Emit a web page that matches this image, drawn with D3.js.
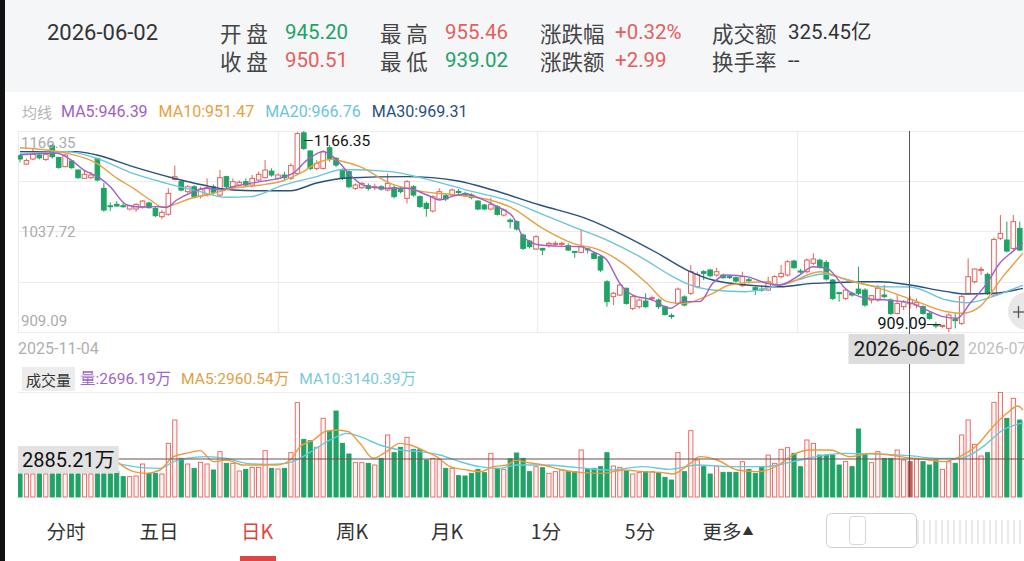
<!DOCTYPE html>
<html>
<head>
<meta charset="utf-8">
<script src="https://cdn.jsdelivr.net/npm/d3@7"></script>
<style>
  body { margin: 0; background: #fff; }
  svg { display: block; font-family: Roboto, "Noto Sans CJK SC", sans-serif; }
</style>
</head>
<body>
<svg id="chart" width="1024" height="561"></svg>
<script>
// ---- data ----
const quoteDate = "2026-06-02";
const quoteLabels = ["开 盘", "最 高", "涨跌幅", "成交额", "收 盘", "最 低", "涨跌额", "换手率"];
const quoteValues = ["945.20", "955.46", "+0.32%", "325.45亿", "950.51", "939.02", "+2.99", "--"];

const maNames = ["MA5", "MA10", "MA20", "MA30"];
const maNow = [946.39, 951.47, 966.76, 969.31];
const volNow = 2696.19;
const volMaNow = [2960.54, 3140.39];
const priceTicks = [1166.35, 1037.72, 909.09];
const crossVolume = 2885.21;
const firstDate = "2025-11-04";
const nextDate = "2026-07";
const tabs = ["分时", "五日", "日K", "周K", "月K", "1分", "5分", "更多"];

const opens = [1134.7, 1124, 1130.5, 1135.6, 1130, 1147.5, 1132.6, 1120.7, 1128, 1116.4,
  1105.7, 1106.6, 1131.3, 1092.9, 1070.7, 1072.5, 1070.7, 1066.5, 1066.5, 1069,
  1074.2, 1067.3, 1056.7, 1059.7, 1104.5, 1101.5, 1088.7, 1095, 1083, 1084.4,
  1095, 1084.4, 1107.9, 1095, 1097.2, 1101.5, 1097.2, 1103.6, 1106.6, 1115,
  1105.7, 1110, 1105.7, 1112, 1164, 1140.7, 1118.5, 1118.5, 1145, 1131.3,
  1116.4, 1114.3, 1092.9, 1093.8, 1096.3, 1094.6, 1095, 1090.8, 1093.8, 1092.9,
  1080.1, 1095, 1082.3, 1073.7, 1064, 1079.3, 1083.5, 1084.4, 1089, 1086.5,
  1084.4, 1076.7, 1071.6, 1066.5, 1069.5, 1058.8, 1052.4, 1050.3, 1033.2, 1025.5,
  1015.3, 1016.1, 1020.4, 1022.1, 1022, 1019.5, 1012.2, 1011, 1015.5, 1009.7,
  1005.5, 973.4, 954.3, 956.4, 965, 939.3, 941.5, 948.7, 952, 950,
  941.5, 930.2, 945.7, 954, 958.6, 967, 986.3, 988.4, 982, 982,
  980, 978.6, 968.4, 976, 965.8, 964, 962.8, 969.2, 979.9, 982,
  999.9, 987.1, 986.3, 997, 1001, 998.2, 975.6, 959.4, 952.1, 958.6,
  964, 962.8, 950, 950, 956.4, 950, 932.9, 941.5, 945.2, 943.6,
  941.5, 932.9, 918, 916.6, 913.7, 925, 920.1, 958.6, 973.5, 988,
  982.8, 956.4, 1029, 1026.8, 1016.1, 1041.7];
const closes = [1130.5, 1128.5, 1136.5, 1132, 1136.5, 1133.5, 1119.8, 1135.6, 1119.4, 1106.6,
  1110.9, 1110, 1103.6, 1065.2, 1070.1, 1070.3, 1070.3, 1070.7, 1072.4, 1076.7,
  1068.2, 1058, 1062.2, 1086.5, 1107.8, 1090.8, 1095, 1082.3, 1092, 1093.8,
  1088, 1106.6, 1095, 1101.5, 1100.6, 1097.2, 1105.7, 1110.9, 1116.4, 1110,
  1110, 1106.6, 1122, 1163, 1144, 1118.5, 1125, 1139.9, 1131.3, 1122.8,
  1105.7, 1095, 1097.2, 1099.3, 1092.9, 1095.2, 1092, 1099.3, 1082.3, 1088.7,
  1101.5, 1084.4, 1069.5, 1067.3, 1082.3, 1088.7, 1079.3, 1090.8, 1088.7, 1083.5,
  1081, 1066.5, 1066.5, 1072.4, 1059.7, 1065.2, 1050.3, 1040.9, 1016.1, 1018.3,
  1031.1, 1014, 1022.5, 1022.5, 1022.5, 1014, 1011, 1018.3, 1014.3, 1003.3,
  988.4, 947.9, 958.6, 969.2, 945.7, 954.3, 950, 941.5, 953, 941.5,
  931.6, 929.8, 964, 943.6, 986.3, 982.8, 984.1, 981.1, 986.3, 978.6,
  979.8, 974.3, 979.9, 975.6, 962.8, 963.5, 973.4, 979.9, 984.1, 999,
  991.4, 987, 1001.2, 1002.5, 992.6, 976.9, 952.1, 958.5, 962.8, 956.4,
  958.6, 943.6, 955.6, 964.9, 954.3, 932.9, 945.7, 947.52, 950.51, 947,
  932.9, 926.5, 917.6, 917.5, 930.8, 924.4, 954.3, 979.9, 989.7, 989.3,
  958.6, 1027.6, 1035.3, 1012.7, 1050.3, 1014];
const highs = [1136.5, 1131, 1144, 1138, 1140, 1150, 1133, 1137, 1129, 1117,
  1116, 1114, 1132, 1100, 1075, 1076.7, 1074.6, 1071.6, 1074, 1078,
  1076, 1069, 1065, 1093, 1122, 1103, 1097, 1097, 1095, 1105.7,
  1098, 1116.4, 1109, 1105.7, 1103, 1105.7, 1110, 1114.3, 1129.2, 1118.5,
  1112, 1114.3, 1125, 1165, 1166.35, 1142, 1129, 1142, 1148.4, 1133,
  1118.5, 1116, 1099.3, 1101, 1099.3, 1099, 1097, 1112, 1097, 1095,
  1103.6, 1097, 1084, 1075.9, 1084, 1092.9, 1086.5, 1093, 1092, 1088.7,
  1086.5, 1078, 1073, 1081, 1071.6, 1067, 1054.5, 1052, 1035, 1027,
  1033, 1016.9, 1024.6, 1025.5, 1025, 1022.5, 1012.5, 1039.6, 1017, 1011.9,
  1007, 975.6, 960.7, 972, 966, 956, 952, 958.6, 955.5, 952,
  943, 933, 966, 956, 994.8, 986.3, 988.4, 990, 991.4, 984,
  982, 980, 986.3, 978.6, 967, 969, 979.9, 982, 994.8, 1001,
  1001.6, 990, 1003.3, 1009.7, 1003, 1001, 977, 960.7, 965, 960.7,
  992.6, 965, 956.4, 969.2, 969.2, 952.1, 956.4, 950, 955.46, 952.1,
  943, 935, 922.2, 918, 933, 932.9, 956.4, 1003.3, 990.5, 992.6,
  985, 1030, 1058.8, 1050.3, 1058.8, 1050.3];
const lows = [1126.2, 1123, 1129, 1130, 1128, 1131, 1118, 1120, 1118, 1105,
  1105, 1105, 1102, 1063, 1064, 1069.6, 1068.2, 1064.8, 1063, 1067,
  1067, 1056, 1053.7, 1058, 1103, 1089, 1087, 1080, 1080, 1082.3,
  1085, 1082.3, 1093, 1093, 1096, 1095, 1095, 1101.5, 1105.7, 1107.9,
  1104, 1103.6, 1103.6, 1110, 1142, 1116, 1116.4, 1117, 1127, 1120,
  1103.6, 1093, 1090.8, 1092, 1090, 1090.8, 1090, 1089, 1080, 1086.5,
  1073.7, 1082, 1068, 1056.7, 1062, 1078, 1076.7, 1083, 1084.4, 1082,
  1079, 1065, 1065, 1065, 1058, 1057, 1041.7, 1039, 1014, 1016,
  1014, 1007.6, 1017, 1018.3, 1019, 1012.7, 1004, 1009.7, 1009.7, 1002,
  986, 941.4, 943.6, 955, 944, 937, 939, 940, 949, 938.5,
  930, 925.7, 944, 942, 956.4, 965, 975.6, 979, 979.9, 977,
  977, 972, 967, 971.3, 956.4, 960.7, 961.5, 967, 977.7, 980,
  990, 984, 984, 994.8, 990, 975, 950, 947.9, 950, 954.3,
  956.4, 941.5, 945.7, 947.9, 952.1, 930.8, 931.6, 937.2, 939.02, 939.3,
  931, 925, 913.7, 913.7, 909.09, 913.7, 918, 957.3, 971.3, 982,
  956.4, 954, 1026.8, 1011, 1014, 1013];
// volume, 万
const volumes = [1750, 1750, 1750, 1750, 1750, 1750, 1750, 1750, 1750, 1750,
  1750, 1750, 1750, 1750, 1750, 1924, 1544, 1544, 1595, 2506,
  1797, 1797, 1746, 4075, 5847, 2936, 2506, 2177, 2632, 2506,
  2050, 3442, 2556, 2556, 1974, 2101, 2253, 2253, 3518, 2177,
  2126, 2177, 3366, 7163, 4379, 4277, 3771, 5973, 5037, 6530,
  4075, 3265, 2607, 2607, 2556, 2430, 2936, 4708, 3366, 3771,
  4530, 3619, 3619, 2809, 2936, 2860, 2177, 2177, 1620, 1595,
  1797, 2101, 1848, 3316, 2177, 2101, 2900, 3340, 2936, 1924,
  2303, 2227, 1797, 1924, 2050, 1924, 1924, 3569, 2101, 2177,
  2303, 3366, 2354, 2253, 2000, 1746, 1848, 1924, 1924, 1848,
  1493, 1291, 3366, 1924, 5037, 2809, 2303, 1746, 2354, 1873,
  1873, 1873, 2683, 2101, 1797, 2253, 3189, 2556, 3619, 3746,
  3316, 2303, 4328, 4075, 3189, 3189, 3189, 2430, 2683, 2303,
  5163, 3265, 2607, 3442, 2936, 2936, 3569, 2809, 2696.19, 2936,
  2683, 2430, 2809, 2101, 2683, 2556, 4708, 5847, 3999, 3113,
  3366, 7188, 7947, 5973, 7492, 5847];

// moving averages read as [candle index, value]
const ma5 = [[0, 1136], [5.7, 1137.8], [7.8, 1130], [9.8, 1117], [12.4, 1106], [14, 1095], [16.5, 1072],
  [18.6, 1069], [21.2, 1069.5], [22.7, 1068.7], [24.3, 1078], [26.4, 1087], [28.9, 1093], [31, 1091],
  [33, 1095], [37.2, 1101.5], [40.3, 1106], [42.3, 1112], [44.5, 1129], [47, 1140], [48.5, 1133.5],
  [49.6, 1125], [51.2, 1110], [53.2, 1097], [56.3, 1093], [60, 1093], [63.1, 1084.4], [65.1, 1078],
  [67.1, 1083], [69.3, 1085.7], [71.3, 1080], [74, 1069.5], [76.4, 1056.7], [78, 1031], [80.6, 1020.4],
  [83.3, 1019], [86.8, 1018.3], [88.8, 1012], [91, 1001], [93, 971.4], [95, 956.4], [98.1, 950],
  [100.8, 939.4], [102.8, 948], [105.4, 948], [107.4, 971.4], [109.6, 982], [112.7, 980], [115.8, 971.4],
  [117.8, 969.2], [120.5, 980], [123, 992.6], [125.1, 990.5], [128.2, 962.8], [131.3, 952.2], [134.4, 950],
  [138, 946.39], [140.6, 937.2], [143.1, 928.7], [145.3, 926.6], [147.3, 945.8], [149.9, 971.4],
  [151.9, 997], [153.9, 1012], [155.5, 1022.6]];
const ma10 = [[0, 1145], [7.2, 1138], [11.9, 1125], [15, 1106], [17.6, 1093], [20.2, 1078], [22.2, 1068.7],
  [23.7, 1071.6], [26.4, 1080], [28.9, 1084.4], [33, 1093], [37.2, 1097], [40.8, 1102.7], [43.4, 1112],
  [46.5, 1127], [48.5, 1130], [49.6, 1128.3], [52.7, 1120.7], [57.4, 1099.4], [62.5, 1088.7], [67.8, 1084.4],
  [72.9, 1078], [76.4, 1067.4], [80.6, 1044], [85.7, 1022.6], [89.9, 1014], [93.5, 997], [97.2, 971.4],
  [100.3, 948], [102.8, 945.5], [107.4, 958.6], [110, 969.2], [115.2, 973.4], [117.8, 969.2], [124, 986.3],
  [128.2, 975.6], [133.3, 965], [138, 951.47], [143.7, 935], [146.2, 933], [148.8, 941.5], [152.4, 980],
  [155.5, 1010]];
const ma20 = [[0, 1138], [7.2, 1140], [11.9, 1131.4], [17.5, 1112], [22.7, 1099.4], [27.9, 1088.7], [32, 1081.5],
  [35.7, 1082.3], [40.8, 1097], [46, 1108], [50.1, 1117], [57.4, 1114.3], [62.5, 1105.8], [70.2, 1088.7],
  [75.5, 1078], [80.6, 1061], [85.7, 1044], [91, 1026.8], [96.1, 1005.5], [101.2, 980], [103.4, 971],
  [107.4, 962.8], [112.6, 960.7], [116.7, 967], [120.5, 975.6], [124.5, 983.3], [128.2, 976.5], [133.3, 967],
  [138, 966.76], [143.7, 950], [146.8, 946.6], [151.5, 956.4], [155.5, 969.2]];
const ma30 = [[0, 1140], [8.8, 1140], [11.9, 1135.6], [17.5, 1120.7], [23.7, 1106.2], [28.4, 1097.2], [33, 1090.8],
  [37.2, 1089.9], [41.9, 1089.9], [46, 1099.8], [50.7, 1106.2], [60, 1108], [67.7, 1102.7], [73.3, 1090.8],
  [80.6, 1071.6], [88.4, 1052.4], [93.5, 1033.2], [98.8, 1010.2], [103.4, 988.4], [107.4, 975.6], [112.7, 969.2],
  [117.8, 967], [122.9, 971.3], [125.6, 972.2], [130.7, 973.4], [133.3, 973.4], [138, 969.31], [143.7, 960.7],
  [146.8, 957.7], [150.9, 958.6], [155.5, 965]];
const volMa5 = [[15, 2683], [17.6, 1924], [19.6, 1797], [21.7, 2050], [23.8, 3063], [25.8, 3316], [27.9, 3518],
  [30, 2683], [32, 2809], [34.6, 2430], [37.2, 2430], [39.8, 2430], [41.9, 2809], [43.4, 3822], [45.5, 4328],
  [47.3, 4961], [49.1, 5087], [50.9, 4961], [52.7, 4075], [54.8, 2936], [56.8, 3442], [58.9, 4075], [60.5, 3948],
  [62.6, 3518], [64.6, 3063], [66.7, 2303], [69.3, 2050], [71.3, 1924], [73.4, 2303], [75.5, 2430], [77, 2809],
  [78, 2683], [81.1, 2430], [84.2, 2050], [87.3, 1848], [90.4, 1797], [93.5, 2050], [96.6, 1924], [99.7, 1848],
  [101.2, 1746], [103.9, 2556], [105.4, 3063], [108.1, 2809], [111.2, 2050], [114.3, 1924], [117.4, 2354],
  [119.8, 3189], [122.5, 3569], [125.6, 3569], [128.7, 3063], [131.8, 3316], [134.9, 3189], [138, 2960.54],
  [141, 2809], [143.1, 2683], [145.7, 3063], [148.4, 3948], [150.4, 5087], [153, 6353], [154.7, 6910], [155.5, 6606]];
const volMa10 = [[15, 2556], [18.6, 2253], [21.7, 2177], [23.8, 2683], [25.8, 2936], [28.9, 3063], [32, 2936],
  [35.1, 2556], [38.2, 2480], [41.3, 2556], [43.4, 2936], [45.5, 3569], [48.1, 4328], [50.7, 4834], [52.7, 4581],
  [55.8, 3948], [58.9, 3569], [62, 3442], [65.1, 3189], [68.2, 2683], [71.3, 2303], [74.4, 2177], [77, 2430],
  [81.1, 2430], [86.2, 2253], [91.3, 2050], [96.6, 2303], [100.7, 2101], [105, 2430], [110.2, 2303], [115.4, 2303],
  [119.8, 2683], [123.4, 3063], [127.5, 3316], [132.7, 3265], [138, 3140.39], [142, 2936], [145.7, 2936],
  [149.3, 3822], [152.4, 5087], [155.5, 5644]];

const crossIdx = 138;
const maxIdx = highs.indexOf(d3.max(highs));
const minIdx = lows.indexOf(d3.min(lows));

// ---- drawing ----
const W = 1024, H = 561;
const RED = "#e4605a", GREEN = "#1fa366";
const maColors = ["#a060c4", "#e8a040", "#6cc4dc", "#27507e"];
const n = opens.length;
const svg = d3.select("#chart");

const x = d3.scaleLinear().domain([0, n - 1]).range([20, 20 + 6.45 * (n - 1)]);
const bw = 4.6;
const y = d3.scaleLinear().domain([d3.min(lows), d3.max(highs)]).range([332, 131]);
const yv = d3.scaleLinear().domain([0, crossVolume]).range([497, 459]);
const up = i => closes[i] >= opens[i];

const defs = svg.append("defs");
defs.append("clipPath").attr("id", "clipPrice").append("rect")
  .attr("x", 18).attr("y", 120).attr("width", W - 18).attr("height", 215);
defs.append("clipPath").attr("id", "clipVol").append("rect")
  .attr("x", 18).attr("y", 392).attr("width", W - 18).attr("height", 106);

// header band
svg.append("rect").attr("width", W).attr("height", 92).attr("fill", "#f5f6f8");
svg.append("text").attr("x", 47).attr("y", 32).attr("dominant-baseline", "central")
  .attr("font-size", 22).attr("fill", "#333").text(quoteDate);

const colLabelX = [220, 380, 540, 712];
const colValueX = [285, 445, 615, 788];
const valueColor = ["#1fa366", RED, RED, "#333", RED, "#1fa366", RED, "#333"];
quoteLabels.forEach((lab, k) => {
  const row = Math.floor(k / 4), col = k % 4;
  const cy = row === 0 ? 32 : 60;
  svg.append("text").attr("x", colLabelX[col]).attr("y", cy).attr("dominant-baseline", "central")
    .attr("font-family", "'Noto Sans CJK SC'").attr("font-size", 21.5).attr("fill", "#444")
    .attr("xml:space", "preserve").text(lab);
  svg.append("text").attr("x", colValueX[col]).attr("y", cy).attr("dominant-baseline", "central")
    .attr("font-size", 20.5).attr("fill", valueColor[k]).text(quoteValues[k]);
});

// MA legend
const legend = svg.append("text").attr("x", 22).attr("y", 111).attr("dominant-baseline", "central")
  .attr("font-size", 16);
legend.append("tspan").attr("fill", "#b4b4b4").attr("font-family", "'Noto Sans CJK SC'").attr("font-size", 15).text("均线");
maNames.forEach((nm, k) => {
  legend.append("tspan").attr("dx", k === 0 ? 9 : 11).attr("fill", maColors[k])
    .text(`${nm}:${maNow[k].toFixed(2)}`);
});

// price grid
const gridVals = d3.range(5).map(k => y.domain()[0] + k * (y.domain()[1] - y.domain()[0]) / 4);
svg.append("g").selectAll("line").data(gridVals).join("line")
  .attr("x1", 18).attr("x2", W).attr("y1", d => Math.round(y(d)) + 0.5).attr("y2", d => Math.round(y(d)) + 0.5)
  .attr("stroke", "#ececec");
svg.append("g").selectAll("line").data([-0.3, 40, 80.2, 120.5]).join("line")
  .attr("x1", d => Math.round(x(d)) + 0.5).attr("x2", d => Math.round(x(d)) + 0.5)
  .attr("y1", y.range()[1]).attr("y2", y.range()[0]).attr("stroke", "#ececec");

// candles
const cg = svg.append("g").attr("clip-path", "url(#clipPrice)");
const idx = d3.range(n);
cg.selectAll("line.wick").data(idx).join("line").attr("class", "wick")
  .attr("x1", i => x(i)).attr("x2", i => x(i))
  .attr("y1", i => y(highs[i])).attr("y2", i => y(lows[i]))
  .attr("stroke", i => up(i) ? RED : GREEN).attr("stroke-width", 1);
cg.selectAll("rect.body").data(idx).join("rect").attr("class", "body")
  .attr("x", i => x(i) - bw / 2)
  .attr("y", i => y(Math.max(opens[i], closes[i])))
  .attr("width", bw)
  .attr("height", i => Math.max(1, Math.abs(y(opens[i]) - y(closes[i]))))
  .attr("fill", i => up(i) ? "#fff" : GREEN)
  .attr("stroke", i => up(i) ? RED : GREEN).attr("stroke-width", 1);

// MA lines
const maLine = d3.line().x(d => x(d[0])).y(d => y(d[1])).curve(d3.curveMonotoneX);
[ma30, ma20, ma10, ma5].forEach((arr, k) => {
  cg.append("path").datum(arr).attr("d", maLine).attr("fill", "none")
    .attr("stroke", maColors[3 - k]).attr("stroke-width", 1.4);
});

// price labels
svg.append("g").selectAll("text").data(priceTicks).join("text")
  .attr("x", 21).attr("y", (d, k) => y(d) + [12, 0, -11][k]).attr("dominant-baseline", "central")
  .attr("font-size", 15).attr("fill", "#ababab").text(d => d.toFixed(2));

// max / min markers
svg.append("line").attr("x1", x(maxIdx)).attr("x2", x(maxIdx) + 9)
  .attr("y1", y(highs[maxIdx]) + 9.5).attr("y2", y(highs[maxIdx]) + 9.5).attr("stroke", "#222");
svg.append("text").attr("x", x(maxIdx) + 10).attr("y", y(highs[maxIdx]) + 10).attr("dominant-baseline", "central")
  .attr("font-size", 15.5).attr("fill", "#111").text(highs[maxIdx].toFixed(2));
svg.append("line").attr("x1", x(minIdx) - 22).attr("x2", x(minIdx) - 8)
  .attr("y1", y(lows[minIdx]) - 7.5).attr("y2", y(lows[minIdx]) - 7.5).attr("stroke", "#222");
svg.append("text").attr("x", x(minIdx) - 22).attr("y", y(lows[minIdx]) - 9).attr("dominant-baseline", "central")
  .attr("text-anchor", "end").attr("font-size", 16).attr("fill", "#111").text(lows[minIdx].toFixed(2));

// date row
svg.append("text").attr("x", 18).attr("y", 348).attr("dominant-baseline", "central")
  .attr("font-size", 16).attr("fill", "#b0b0b0").text(firstDate);
svg.append("text").attr("x", 968).attr("y", 348).attr("dominant-baseline", "central")
  .attr("font-size", 16).attr("fill", "#c0c0c0").text(nextDate);

// volume legend
svg.append("line").attr("x1", 18).attr("x2", W).attr("y1", 392.5).attr("y2", 392.5).attr("stroke", "#ededed");
svg.append("rect").attr("x", 22).attr("y", 367).attr("width", 53).attr("height", 24).attr("fill", "#ececec");
svg.append("text").attr("x", 48.5).attr("y", 379).attr("text-anchor", "middle").attr("dominant-baseline", "central")
  .attr("font-family", "'Noto Sans CJK SC'").attr("font-size", 15).attr("fill", "#333").text("成交量");
const vleg = svg.append("text").attr("x", 80).attr("y", 379).attr("dominant-baseline", "central").attr("font-size", 15.5);
vleg.append("tspan").attr("fill", "#a064c8").text(`量:${volNow.toFixed(2)}万`);
vleg.append("tspan").attr("dx", 10).attr("fill", "#e0a048").text(`MA5:${volMaNow[0].toFixed(2)}万`);
vleg.append("tspan").attr("dx", 10).attr("fill", "#7ec8dc").text(`MA10:${volMaNow[1].toFixed(2)}万`);

// volume bars
const vg = svg.append("g").attr("clip-path", "url(#clipVol)");
vg.selectAll("rect").data(idx).join("rect")
  .attr("x", i => x(i) - bw / 2 + 0.2).attr("y", i => yv(volumes[i]))
  .attr("width", bw - 0.4).attr("height", i => yv(0) - yv(volumes[i]))
  .attr("fill", i => i === crossIdx ? "#c25e58" : (up(i) ? "#fff6f5" : GREEN))
  .attr("stroke", i => up(i) ? RED : GREEN).attr("stroke-width", 0.9);
const vLine = d3.line().x(d => x(d[0])).y(d => yv(d[1])).curve(d3.curveMonotoneX);
vg.append("path").datum(volMa10).attr("d", vLine).attr("fill", "none").attr("stroke", "#62cbe0").attr("stroke-width", 1.4);
vg.append("path").datum(volMa5).attr("d", vLine).attr("fill", "none").attr("stroke", "#ee9a3a").attr("stroke-width", 1.4);

// crosshair
const cx = Math.round(x(crossIdx)) - 0.5;
svg.append("line").attr("x1", cx).attr("x2", cx).attr("y1", 131).attr("y2", 335).attr("stroke", "#555");
svg.append("line").attr("x1", cx).attr("x2", cx).attr("y1", 363).attr("y2", 497).attr("stroke", "#555");
svg.append("line").attr("x1", 116).attr("x2", W).attr("y1", yv(crossVolume)).attr("y2", yv(crossVolume))
  .attr("stroke", "#6e5050").attr("stroke-width", 1.1);

const dateTxt = svg.append("text").attr("x", cx - 3).attr("y", 349).attr("text-anchor", "middle")
  .attr("dominant-baseline", "central").attr("font-size", 21).attr("fill", "#1a1a1a").text(quoteDate);
const dtw = dateTxt.node().getComputedTextLength();
svg.insert("rect", () => dateTxt.node()).attr("x", cx - 3 - dtw / 2 - 5).attr("y", 334)
  .attr("width", dtw + 10).attr("height", 30).attr("fill", "#dcdcdc");

const volTxt = svg.append("text").attr("x", 22).attr("y", yv(crossVolume) + 0.5).attr("dominant-baseline", "central")
  .attr("font-size", 20).attr("fill", "#111").text(`${crossVolume.toFixed(2)}万`);
const vtw = volTxt.node().getComputedTextLength();
svg.insert("rect", () => volTxt.node()).attr("x", 18).attr("y", yv(crossVolume) - 13)
  .attr("width", vtw + 8).attr("height", 27).attr("fill", "#e2e2e2");

// zoom button
svg.append("circle").attr("cx", 1027).attr("cy", 311).attr("r", 19).attr("fill", "#e4e4e4").attr("opacity", 0.85);
svg.append("line").attr("x1", 1013).attr("x2", 1024).attr("y1", 312).attr("y2", 312).attr("stroke", "#555").attr("stroke-width", 1.3);
svg.append("line").attr("x1", 1018.5).attr("x2", 1018.5).attr("y1", 306).attr("y2", 318).attr("stroke", "#555").attr("stroke-width", 1.3);

// bottom tabs
const tabX = [66, 159, 257, 352, 447, 546, 640, 728];
const tabText = svg.append("g").selectAll("text").data(tabs).join("text")
  .attr("x", (d, k) => tabX[k]).attr("y", 530).attr("text-anchor", "middle").attr("dominant-baseline", "central")
  .attr("font-family", "'Noto Sans CJK SC'").attr("font-size", 19.5)
  .attr("fill", d => d === "日K" ? "#e0453f" : "#333").text(d => d);
tabText.filter(d => d === "更多").append("tspan").attr("font-size", 11).attr("dx", 1).text("▲");
svg.append("rect").attr("x", 240).attr("y", 556).attr("width", 36).attr("height", 6).attr("fill", "#e0453f");

// range slider thumbnail
svg.append("rect").attr("x", 826.5).attr("y", 513.5).attr("width", 90).attr("height", 34).attr("rx", 5)
  .attr("fill", "#fff").attr("stroke", "#cfcfcf");
svg.append("rect").attr("x", 849.5).attr("y", 516.5).attr("width", 16).attr("height", 28).attr("rx", 3)
  .attr("fill", "none").attr("stroke", "#d8d8d8");
svg.append("g").selectAll("line").data(d3.range(918, 1024, 6)).join("line")
  .attr("x1", d => d).attr("x2", d => d).attr("y1", 520).attr("y2", 544).attr("stroke", "#eaeaea").attr("stroke-width", 2);

// dark left edge of the photo
svg.append("rect").attr("x", 0).attr("y", 0).attr("width", 5).attr("height", H).attr("fill", "#111");
</script>
</body>
</html>
